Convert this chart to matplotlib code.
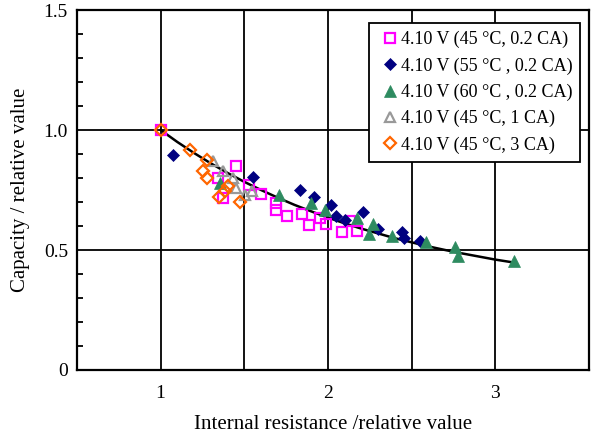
import numpy as np
import matplotlib.pyplot as plt
from matplotlib.ticker import MultipleLocator

plt.rcParams["font.family"] = ["Liberation Serif", "DejaVu Serif"]

# capacity vs internal resistance, both relative to the fresh cell
sq_45_02_x = [1.00, 1.34, 1.37, 1.45, 1.53, 1.60, 1.69, 1.69, 1.757, 1.846,
              1.887, 1.95, 1.99, 2.085, 2.13, 2.175]
sq_45_02_y = [1.00, 0.80, 0.715, 0.85, 0.77, 0.735, 0.695, 0.665, 0.643, 0.65,
              0.603, 0.633, 0.609, 0.575, 0.622, 0.58]

dm_55_02_x = [1.075, 1.55, 1.83, 1.915, 2.02, 2.045, 2.10, 2.207, 2.30,
              2.442, 2.456, 2.549]
dm_55_02_y = [0.895, 0.805, 0.75, 0.72, 0.688, 0.642, 0.625, 0.66, 0.587,
              0.575, 0.552, 0.537]

tr_60_02_x = [1.355, 1.707, 1.90, 1.98, 2.173, 2.27, 2.247, 2.38, 2.588,
              2.759, 2.778, 3.109]
tr_60_02_y = [0.78, 0.73, 0.695, 0.665, 0.632, 0.608, 0.568, 0.558, 0.534,
              0.512, 0.475, 0.454]

tr_45_1_x = [1.31, 1.375, 1.435, 1.45, 1.507, 1.545]
tr_45_1_y = [0.872, 0.828, 0.802, 0.76, 0.728, 0.745]

dm_45_3_x = [1.00, 1.175, 1.28, 1.253, 1.278, 1.40, 1.384, 1.347, 1.474]
dm_45_3_y = [1.00, 0.915, 0.875, 0.828, 0.80, 0.768, 0.746, 0.72, 0.698]

# trend line through the whole set
fit_x = [1.0, 1.1, 1.2, 1.3, 1.4, 1.5, 1.6, 1.7, 1.8, 1.9, 2.0,
         2.1, 2.2, 2.3, 2.4, 2.5, 2.6, 2.7, 2.8, 2.9, 3.0, 3.1]
fit_y = [1.000, 0.950, 0.904, 0.861, 0.821, 0.784, 0.750, 0.718, 0.688,
         0.661, 0.635, 0.611, 0.589, 0.569, 0.549, 0.532, 0.515, 0.500,
         0.486, 0.473, 0.460, 0.449]

labels = [
    "4.10 V (45 \u00b0C, 0.2 CA)",
    "4.10 V (55 \u00b0C , 0.2 CA)",
    "4.10 V (60 \u00b0C , 0.2 CA)",
    "4.10 V (45 \u00b0C, 1 CA)",
    "4.10 V (45 \u00b0C, 3 CA)",
]

fig = plt.figure(figsize=(5.94, 4.36), dpi=100)
ax = fig.add_axes([0.1296, 0.1514, 0.8620, 0.8256])

ax.plot(fit_x, fit_y, color="black", lw=1.8, zorder=3)

ax.plot(sq_45_02_x, sq_45_02_y, ls="none", marker="s", ms=7, mfc="none",
        mec="#ff00ff", mew=1.6, label=labels[0], zorder=4)
ax.plot(dm_55_02_x, dm_55_02_y, ls="none", marker="D", ms=6.3,
        mfc="#000080", mec="#000080", mew=0.5, label=labels[1], zorder=4)
ax.plot(tr_60_02_x, tr_60_02_y, ls="none", marker="^", ms=8,
        mfc="#2e8b60", mec="#2e8b60", mew=0.5, label=labels[2], zorder=4)
ax.plot(tr_45_1_x, tr_45_1_y, ls="none", marker="^", ms=7, mfc="none",
        mec="#999999", mew=1.6, label=labels[3], zorder=4)
ax.plot(dm_45_3_x, dm_45_3_y, ls="none", marker="D", ms=6, mfc="none",
        mec="#ff6600", mew=1.6, label=labels[4], zorder=5)

ax.set_xlim(0.5, 3.56)
ax.set_ylim(0, 1.5)
ax.set_xticks([1, 2, 3])
ax.set_xticks([0.5, 1.5, 2.5, 3.5], minor=True)
ax.set_xticklabels(["1", "2", "3"])
ax.set_yticks([0, 0.5, 1.0, 1.5])
ax.yaxis.set_minor_locator(MultipleLocator(0.1))
ax.set_yticklabels(["0", "0.5", "1.0", "1.5"])

ax.tick_params(which="both", direction="in", width=1.3, labelsize=14)
ax.tick_params(which="major", length=0)
ax.tick_params(axis="y", which="major", pad=6.5)
ax.tick_params(axis="x", which="major", pad=11)
ax.tick_params(axis="y", which="minor", length=4)
ax.tick_params(axis="x", which="minor", length=0)

# grid every 0.5 in both directions
for gx in np.arange(1.0, 3.5, 0.5):
    ax.axvline(gx, color="black", lw=1.3, zorder=1)
for gy in (0.5, 1.0):
    ax.axhline(gy, color="black", lw=1.3, zorder=1)

for sp in ax.spines.values():
    sp.set_linewidth(1.6)

ax.set_xlabel("Internal resistance /relative value", fontsize=15, labelpad=9)
ax.set_ylabel("Capacity / relative value", fontsize=15, labelpad=10)

leg = ax.legend(loc="upper right", bbox_to_anchor=(0.983, 0.964),
                fontsize=13, frameon=True, fancybox=False, framealpha=1,
                edgecolor="black", handlelength=1.4, handletextpad=-0.1,
                borderpad=0.45, labelspacing=0.5, borderaxespad=0)
leg.get_frame().set_linewidth(1.3)
leg.set_zorder(10)

fig.savefig("out.png", dpi=100)
